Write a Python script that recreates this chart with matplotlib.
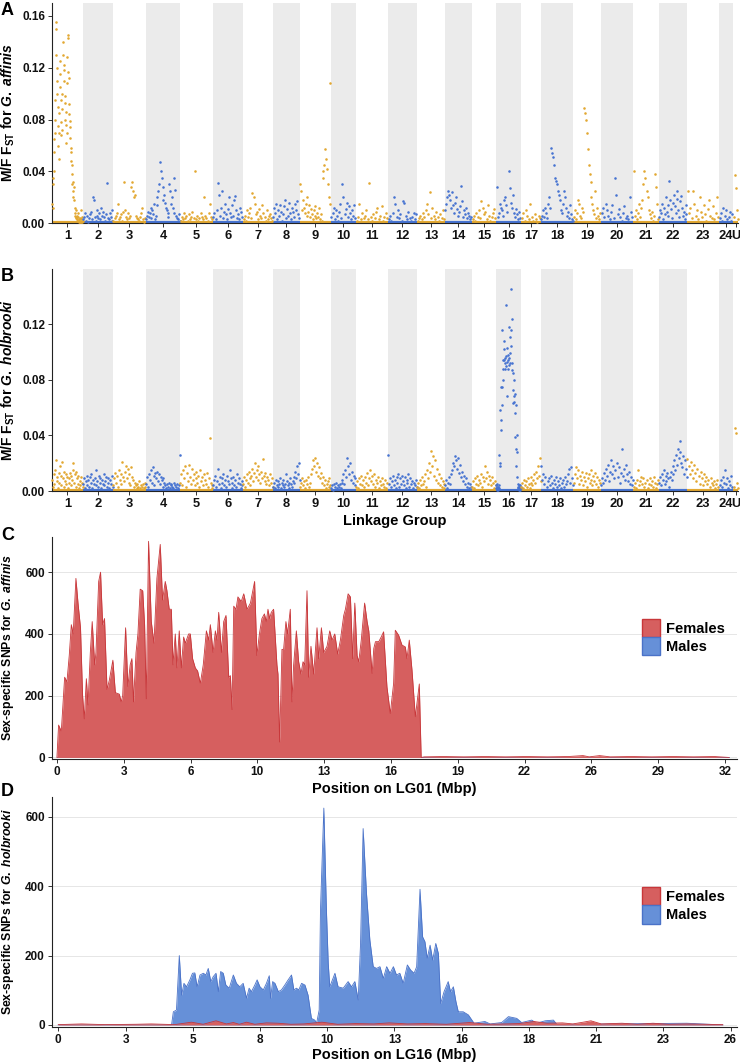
import numpy as np
import matplotlib.pyplot as plt
from matplotlib.patches import Patch

plt.rcParams['font.family'] = ['Liberation Sans', 'DejaVu Sans']
plt.rcParams['font.weight'] = 'bold'
plt.rcParams['mathtext.fontset'] = 'custom'
plt.rcParams['mathtext.rm'] = 'Liberation Sans:bold'
plt.rcParams['mathtext.it'] = 'Liberation Sans:bold:italic'
plt.rcParams['mathtext.bf'] = 'Liberation Sans:bold'

GOLD = '#E2A832'
BLUE = '#4673D1'
BAND = '#EBEBEB'
RED_FILL = '#D65F5F'
RED_EDGE = '#C8373A'
BLUE_FILL = '#6690D8'
BLUE_EDGE = '#4A72C8'

# linkage groups (approx. length in Mbp)
lg_labels = [str(i) for i in range(1, 25)] + ['U']
lg_lengths = [32.2, 31.2, 34.3, 35.4, 34.3, 31.2, 31.2, 28.1, 32.2, 26.0, 33.3, 30.2, 29.1,
              28.1, 25.0, 26.0, 20.8, 33.3, 29.1, 33.3, 27.0, 29.1, 33.3, 14.6, 5.2]

# M/F Fst x 1000, SNPs in order along each linkage group
fst_affinis = [
    [15, 30, 35, 12, 65, 55, 40, 70, 80, 95, 130, 155, 150, 120, 100, 110, 75, 90, 60, 85, 70, 50,
     105, 115, 125, 95, 78, 68, 88, 100, 72, 130, 140, 118, 122, 110, 98, 93, 80, 86, 76, 62, 70,
     108, 128, 143, 145, 117, 112, 92, 84, 79, 74, 66, 58, 48, 55, 45, 38, 30, 25, 20, 32, 28, 18,
     12, 8, 6, 5, 10, 4, 3, 2, 6, 8, 5, 2, 1, 3, 2, 4, 1, 2, 10, 3, 1, 2, 5, 1, 2],
    [3, 5, 8, 2, 6, 1, 4, 7, 9, 3, 20, 18, 5, 2, 6, 10, 4, 8, 3, 12, 6, 9, 5, 2, 7, 31, 4, 3, 8, 5, 2, 10],
    [2, 4, 6, 8, 15, 3, 5, 7, 2, 9, 32, 10, 5, 3, 8, 4, 6, 28, 32, 25, 20, 22, 6, 4, 3, 2, 5, 8, 12, 3, 1, 4],
    [3, 6, 9, 5, 8, 12, 4, 10, 7, 15, 3, 6, 20, 14, 25, 30, 47, 40, 35, 28, 18, 22, 16, 12, 10, 8, 5,
     30, 25, 15, 20, 12, 8, 35, 26, 6, 4, 3, 7, 2],
    [2, 5, 3, 8, 4, 6, 2, 7, 3, 5, 9, 4, 40, 3, 6, 2, 4, 8, 5, 3, 20, 6, 4, 2, 8, 15, 5, 3],
    [5, 8, 3, 10, 31, 22, 6, 12, 25, 4, 9, 15, 7, 3, 11, 20, 8, 5, 14, 6, 18, 21, 10, 4, 7, 3, 12, 9, 5],
    [3, 6, 2, 10, 5, 8, 12, 4, 23, 20, 15, 7, 9, 3, 11, 6, 4, 14, 8, 5, 2, 10, 3, 6, 7, 4, 2],
    [5, 12, 8, 15, 3, 10, 6, 14, 9, 2, 7, 13, 18, 4, 11, 6, 16, 8, 3, 12, 9, 5, 15, 10, 17, 7, 4],
    [30, 25, 10, 18, 12, 8, 15, 6, 20, 9, 14, 5, 11, 7, 3, 10, 13, 6, 4, 8, 5, 12, 3, 7, 2, 35, 40,
     45, 57, 50, 42, 30, 20, 15, 108],
    [5, 8, 12, 3, 10, 6, 2, 9, 15, 4, 30, 20, 7, 11, 16, 5, 13, 8, 3, 10, 6, 14, 4],
    [2, 5, 15, 3, 8, 4, 6, 10, 3, 31, 5, 2, 7, 4, 9, 12, 3, 6, 13, 2, 5, 8, 4],
    [3, 6, 2, 8, 20, 15, 5, 10, 4, 7, 2, 17, 16, 6, 3, 9, 4, 2, 5, 8, 3, 7],
    [2, 4, 6, 3, 8, 5, 10, 15, 7, 24, 4, 12, 6, 3, 9, 5, 2, 7, 4, 10, 3],
    [10, 15, 20, 25, 22, 18, 12, 24, 14, 8, 16, 20, 11, 6, 9, 13, 29, 17, 5, 10, 7, 12, 4, 8, 6, 3, 5],
    [3, 6, 2, 8, 5, 10, 4, 17, 12, 7, 9, 3, 14, 6, 2, 5, 8, 11, 4],
    [28, 5, 8, 15, 12, 10, 6, 18, 20, 14, 9, 40, 27, 16, 12, 22, 8, 5, 11, 7, 3, 9, 4],
    [4, 8, 2, 10, 6, 3, 15, 5, 2, 7, 3, 1, 6, 4],
    [3, 6, 10, 5, 12, 8, 4, 15, 20, 12, 58, 54, 51, 45, 35, 33, 30, 25, 22, 18, 10, 8, 15, 25, 20,
     12, 6, 9, 4, 14, 7, 3, 2],
    [5, 10, 3, 8, 18, 15, 6, 4, 12, 9, 89, 85, 80, 70, 57, 45, 38, 32, 20, 15, 10, 7, 25, 4, 12, 6, 3, 8],
    [8, 12, 5, 15, 10, 6, 3, 9, 14, 4, 35, 22, 7, 11, 5, 2, 8, 13, 4, 6, 3, 20, 9, 5],
    [40, 6, 10, 3, 8, 15, 5, 12, 18, 30, 40, 35, 25, 20, 10, 7, 4, 9, 2, 6, 38, 28, 15, 3],
    [5, 10, 8, 15, 3, 12, 7, 20, 9, 14, 6, 33, 18, 11, 4, 16, 22, 13, 8, 25, 19, 10, 5, 17, 21, 12,
     6, 9, 3, 14, 7],
    [25, 8, 12, 4, 25, 15, 6, 10, 3, 20, 9, 5, 14, 7, 2, 11, 18, 6, 4, 13, 3, 8, 20, 5],
    [4, 8, 2, 12, 6, 10, 3, 5, 9, 2, 7],
    [5, 37, 27, 10, 3],
]

fst_holbrooki = [
    [8, 3, 12, 5, 15, 22, 7, 10, 2, 13, 6, 18, 4, 11, 21, 9, 3, 14, 7, 12, 5, 10, 2, 9, 6, 13, 4, 11,
     8, 15, 20, 6, 12, 3, 14, 9, 5, 11, 2, 7, 4, 10, 6, 3],
    [5, 9, 2, 7, 11, 4, 8, 3, 10, 6, 12, 2, 8, 5, 9, 4, 15, 7, 3, 11, 6, 9, 2, 8, 5, 12, 4, 7, 10, 3,
     6, 9, 2, 8, 5, 11, 3],
    [4, 9, 13, 6, 11, 3, 15, 8, 12, 5, 21, 10, 7, 14, 18, 9, 16, 6, 12, 4, 17, 10, 8, 3, 6, 4, 2, 5,
     3, 7, 2, 4, 3, 5, 2, 6, 3],
    [5, 10, 3, 12, 8, 15, 6, 17, 11, 4, 13, 9, 14, 7, 12, 5, 10, 8, 3, 9, 6, 4, 2, 5, 3, 6, 2, 4, 5,
     3, 2, 6, 4, 3, 5, 2, 4, 26],
    [6, 12, 4, 15, 9, 18, 3, 13, 7, 19, 10, 5, 16, 8, 12, 4, 14, 9, 6, 11, 3, 15, 7, 10, 4, 12, 8, 5,
     13, 3, 9, 38, 6, 4, 2],
    [4, 8, 11, 3, 7, 16, 5, 10, 2, 9, 6, 12, 4, 8, 3, 11, 7, 5, 15, 9, 2, 6, 10, 4, 8, 3, 12, 6, 9, 5, 2, 7, 4],
    [5, 10, 3, 8, 12, 6, 14, 9, 4, 11, 16, 7, 13, 20, 10, 15, 8, 18, 12, 6, 14, 9, 23, 11, 7, 13, 5,
     10, 8, 4, 12, 6, 9, 3],
    [3, 6, 2, 8, 4, 7, 3, 5, 9, 2, 6, 4, 8, 3, 5, 12, 7, 4, 6, 2, 9, 5, 3, 7, 10, 6, 14, 9, 18, 12, 20, 8],
    [3, 6, 9, 4, 7, 2, 8, 5, 10, 3, 6, 12, 16, 22, 18, 24, 14, 20, 11, 17, 9, 13, 6, 10, 4, 8, 2, 5, 7, 3, 9, 4],
    [2, 4, 1, 5, 3, 6, 2, 4, 3, 5, 2, 6, 8, 12, 5, 15, 10, 24, 18, 12, 20, 8, 14, 6, 11, 4, 9],
    [3, 7, 2, 9, 5, 11, 4, 8, 3, 10, 6, 13, 4, 9, 15, 7, 11, 5, 12, 3, 8, 6, 10, 2, 7, 4, 9, 5, 3, 8, 2, 6],
    [26, 5, 9, 3, 7, 11, 4, 8, 2, 10, 6, 12, 3, 9, 5, 11, 7, 4, 10, 2, 8, 6, 12, 3, 9, 5, 7, 2, 6, 4, 8, 3],
    [3, 6, 2, 8, 4, 10, 5, 7, 12, 3, 15, 9, 20, 14, 29, 18, 25, 11, 22, 8, 16, 6, 12, 4, 9, 3, 7, 5, 2],
    [4, 8, 2, 6, 10, 5, 12, 15, 20, 18, 25, 22, 16, 24, 13, 19, 10, 14, 7, 11, 5, 9, 3, 6, 2, 5, 3],
    [3, 7, 2, 9, 5, 11, 4, 8, 6, 12, 3, 10, 7, 18, 9, 14, 5, 11, 8, 4, 10, 6, 2, 7, 4],
    [2, 4, 1, 3, 5, 2, 3, 1, 4, 2, 26, 18, 58, 20, 51, 44, 75, 62, 75, 116, 94, 88, 80, 94, 102, 108,
     88, 96, 92, 134, 97, 90, 68, 93, 103, 98, 94, 88, 91, 118, 96, 92, 99, 111, 145, 104, 116, 87,
     124, 92, 73, 85, 63, 80, 68, 64, 56, 70, 39, 62, 30, 18, 40, 10, 28, 3, 5, 2, 4, 1, 3, 2, 4, 1, 3, 2],
    [3, 6, 2, 8, 4, 7, 3, 9, 5, 2, 6, 10, 4, 8, 12, 6, 14, 9, 18, 11, 24, 7],
    [18, 8, 12, 5, 10, 3, 7, 9, 4, 11, 6, 2, 8, 5, 10, 3, 7, 4, 9, 2, 6, 8, 3, 10, 5, 7, 12, 16, 6, 17, 9, 4],
    [6, 12, 17, 9, 15, 5, 11, 8, 14, 4, 10, 7, 13, 3, 9, 12, 6, 15, 8, 4, 11, 7, 13, 5, 10, 3, 8, 6],
    [4, 9, 6, 13, 8, 16, 11, 19, 7, 14, 22, 12, 18, 9, 15, 20, 10, 17, 6, 13, 30, 11, 16, 8, 19, 12,
     7, 14, 5, 10, 4, 8],
    [3, 6, 2, 8, 15, 4, 7, 10, 5, 9, 3, 6, 8, 2, 5, 9, 4, 7, 3, 10, 6, 2, 5, 8],
    [6, 10, 4, 12, 8, 15, 5, 11, 7, 13, 9, 3, 10, 14, 8, 12, 18, 22, 15, 26, 19, 30, 24, 36, 28, 20,
     17, 25, 12, 22, 16, 10],
    [23, 18, 12, 21, 15, 9, 19, 13, 7, 16, 11, 5, 14, 9, 4, 12, 7, 10, 5, 8, 3, 9, 6, 4, 7, 2, 5, 8, 3],
    [4, 8, 3, 10, 6, 15, 5, 9, 2, 7, 4, 11, 3],
    [3, 45, 42, 6, 2],
]

# sex-specific SNPs along LG01 in G. affinis
c_pos = [0.00, 0.08, 0.21, 0.37, 0.48, 0.59, 0.69, 0.78, 0.91, 1.01, 1.13, 1.23, 1.31, 1.41, 1.49,
         1.60, 1.69, 1.81, 1.87, 2.00, 2.09, 2.19, 2.28, 2.40, 2.51, 2.68, 2.80, 2.99, 3.08, 3.15,
         3.29, 3.40, 3.51, 3.59, 3.67, 3.79, 3.88, 3.99, 4.11, 4.20, 4.28, 4.39, 4.52, 4.65, 4.79,
         4.95, 5.06, 5.19, 5.27, 5.38, 5.48, 5.56, 5.67, 5.75, 5.86, 5.96, 6.07, 6.15, 6.31, 6.39,
         6.50, 6.63, 6.74, 6.87, 7.01, 7.16, 7.27, 7.35, 7.48, 7.59, 7.67, 7.75, 7.88, 7.99, 8.10,
         8.23, 8.31, 8.39, 8.47, 8.58, 8.67, 8.83, 8.95, 9.11, 9.27, 9.47, 9.58, 9.70, 9.82, 9.94,
         10.03, 10.11, 10.19, 10.27, 10.38, 10.54, 10.59, 10.67, 10.78, 10.86, 10.97, 11.05, 11.18,
         11.26, 11.34, 11.47, 11.58, 11.69, 11.79, 11.87, 11.98, 12.06, 12.17, 12.30, 12.46, 12.54,
         12.67, 12.78, 12.94, 13.07, 13.18, 13.31, 13.45, 13.58, 13.74, 13.82, 13.95, 14.06, 14.17,
         14.27, 14.38, 14.46, 14.58, 14.74, 14.86, 14.94, 15.10, 15.18, 15.26, 15.42, 15.54, 15.65,
         15.81, 15.97, 16.13, 16.21, 16.37, 16.53, 16.69, 16.77, 16.88, 17.01, 17.17, 17.36, 17.45,
         17.6, 18.5, 19.5, 20.5, 21.5, 22.5, 23.5, 24.5, 25.2, 25.5, 26.0, 26.5, 27.5, 28.5, 29.5,
         30.5, 31.5, 32.2]
c_females = [0, 105, 85, 260, 245, 330, 430, 400, 580, 500, 420, 200, 125, 255, 170,
             340, 440, 300, 340, 570, 600, 430, 450, 220, 250, 315, 210, 205, 180, 200,
             420, 230, 300, 320, 180, 340, 400, 545, 540, 430, 190, 700, 440, 370, 580,
             690, 510, 570, 540, 480, 480, 300, 400, 290, 410, 290, 390, 370, 400, 400,
             320, 290, 280, 240, 300, 410, 380, 430, 340, 410, 380, 470, 340, 440, 460,
             260, 265, 155, 490, 480, 520, 505, 530, 480, 500, 570, 330, 400, 450, 465,
             440, 480, 450, 470, 480, 300, 270, 50, 350, 350, 440, 400, 480,
             180, 300, 410, 310, 270, 310, 300, 540, 260, 360, 270, 420, 320,
             420, 340, 360, 410, 380, 400, 335, 380, 460, 480, 530, 520, 320,
             500, 330, 310, 380, 500, 440, 410, 272, 353, 375, 375, 391, 407,
             229, 142, 240, 412, 396, 364, 358, 320, 380, 283, 132, 238, 0,
             2, 3, 2, 3, 2, 3, 2, 3, 6, 2, 6, 2, 3, 2, 3,
             2, 3, 0]
c_males_pos = [0.0, 8.0, 16.0, 24.0, 32.2]
c_males = [0, 0, 0, 0, 0]
c_ticks = [0, 3.2, 6.4, 9.6, 12.8, 16.0, 19.2, 22.4, 25.6, 28.8, 32.0]
c_ticklabels = ['0', '3', '6', '10', '13', '16', '19', '22', '26', '29', '32']

# sex-specific SNPs along LG16 in G. holbrooki
d_males_pos = [0.0, 4.38, 4.45, 4.57, 4.68, 4.77, 4.86, 4.96, 5.09, 5.19, 5.28, 5.37, 5.48, 5.61,
               5.71, 5.80, 5.90, 5.99, 6.10, 6.19, 6.28, 6.38, 6.48, 6.61, 6.77, 6.89, 7.02, 7.15,
               7.28, 7.38, 7.47, 7.60, 7.69, 7.80, 7.93, 8.05, 8.16, 8.21, 8.29, 8.38, 8.51, 8.63,
               8.76, 8.89, 9.02, 9.11, 9.21, 9.30, 9.41, 9.54, 9.66, 9.79, 9.92, 9.99, 10.09, 10.14,
               10.27, 10.37, 10.44, 10.50, 10.70, 10.82, 11.02, 11.21, 11.34, 11.47, 11.60, 11.69,
               11.79, 11.92, 12.05, 12.18, 12.31, 12.44, 12.57, 12.70, 12.83, 12.96, 13.08, 13.21,
               13.34, 13.50, 13.63, 13.76, 13.86, 13.99, 14.09, 14.18, 14.27, 14.38, 14.48, 14.60,
               14.70, 14.79, 14.92, 15.08, 15.17, 15.28, 15.38, 15.47, 15.66, 15.86, 16.08, 16.50,
               16.70, 17.15, 17.41, 17.73, 17.92, 18.31, 18.50, 18.83, 19.15, 19.28, 19.80, 24.31, 25.70]
d_males = [0, 0, 38, 43, 200, 86, 120, 110, 130, 149, 150, 110, 144, 149,
           144, 163, 125, 139, 149, 96, 154, 149, 115, 106, 144, 120, 110, 120,
           77, 106, 96, 115, 130, 110, 101, 120, 142, 77, 125, 120, 96, 101,
           115, 130, 144, 101, 106, 101, 120, 115, 86, 19, 14, 5, 43, 331,
           625, 331, 178, 110, 149, 110, 106, 125, 110, 125, 72, 235,
           566, 379, 245, 168, 163, 168, 134, 168, 149, 168, 144, 149,
           120, 173, 158, 149, 168, 391, 254, 240, 192, 230, 187, 235,
           206, 62, 96, 125, 96, 110, 67, 38, 38, 29, 5, 10,
           3, 7, 24, 19, 7, 14, 5, 12, 14, 2, 2, 5, 0]
d_females_pos = [0.0, 0.9, 1.8, 3.0, 3.6, 4.5, 5.15, 5.6, 6.1, 6.5, 6.77, 7.0, 7.28, 7.6, 8.05,
                 8.5, 9.0, 9.5, 10.2, 10.8, 11.5, 12.2, 12.8, 13.5, 14.2, 15.0, 15.9, 16.6, 17.3,
                 17.8, 18.4, 18.9, 19.5, 19.9, 20.3, 20.6, 21.0, 21.4, 21.8, 22.4, 23.0, 23.6,
                 24.3, 25.0, 25.7]
d_females = [1, 3, 1, 2, 3, 1, 8, 2, 12, 3, 7, 2, 8, 2, 6,
             5, 2, 3, 8, 2, 4, 3, 6, 3, 4, 2, 7, 2, 3,
             4, 10, 5, 6, 3, 8, 12, 3, 4, 5, 2, 5, 2,
             3, 2, 1]
d_ticks = [0, 2.6, 5.2, 7.8, 10.4, 13.0, 15.6, 18.2, 20.8, 23.4, 26.0]
d_ticklabels = ['0', '3', '5', '8', '10', '13', '16', '18', '21', '23', '26']

W, H = 740, 1062
fig = plt.figure(figsize=(W / 100, H / 100), dpi=100)


def px_axes(left, top, right, bottom):
    return fig.add_axes([left / W, 1 - bottom / H, (right - left) / W, (bottom - top) / H])


def side_label(text, top, bottom, size):
    fig.text(8 / W, 1 - (top + bottom) / 2 / H, text, rotation=90, ha='center', va='center',
             fontsize=size, fontweight='bold')


def style(ax):
    for side in ('top', 'right'):
        ax.spines[side].set_visible(False)
    for side in ('left', 'bottom'):
        ax.spines[side].set_color('#222222')
        ax.spines[side].set_linewidth(0.8)
    ax.tick_params(axis='both', labelsize=8.5, length=3, width=0.7, color='#333333',
                   labelcolor='#111111', pad=2)
    for lab in ax.get_xticklabels() + ax.get_yticklabels():
        lab.set_fontweight('bold')


def manhattan(ax, fst, ymax, yticks):
    starts = np.concatenate([[0], np.cumsum(lg_lengths)[:-1]])
    for k, (s, ln, vals) in enumerate(zip(starts, lg_lengths, fst)):
        col = GOLD if k % 2 == 0 else BLUE
        if k % 2 == 1:
            ax.axvspan(s, s + ln, color=BAND, lw=0, zorder=0)
        n = len(vals)
        x = s + (np.arange(n) + 0.5) * ln / n
        ax.scatter(x, np.array(vals) / 1000, s=3.4, color=col, lw=0, zorder=3, clip_on=False)
        ax.plot([s, s + ln], [0, 0], color=col, lw=3, zorder=2, solid_capstyle='butt')
    ax.set_xlim(0, sum(lg_lengths))
    ax.set_ylim(0, ymax)
    ax.set_yticks(yticks)
    ax.set_yticklabels(['%.2f' % v for v in yticks])
    ax.set_xticks(starts + np.array(lg_lengths) / 2)
    ax.set_xticklabels(lg_labels)
    style(ax)
    ax.tick_params(axis='x', labelsize=9.3)


def snp_area(ax, fem_pos, fem, male_pos, male, ticks, ticklabels, xlim, ymin, ymax):
    ax.fill_between(male_pos, male, color=BLUE_FILL, lw=0, zorder=2)
    ax.plot(male_pos, male, color=BLUE_EDGE, lw=0.6, zorder=2)
    ax.fill_between(fem_pos, fem, color=RED_FILL, lw=0, zorder=3)
    ax.plot(fem_pos, fem, color=RED_EDGE, lw=0.6, zorder=3)
    ax.set_xlim(*xlim)
    ax.set_ylim(ymin, ymax)
    ax.set_yticks([0, 200, 400, 600])
    ax.set_xticks(ticks)
    ax.set_xticklabels(ticklabels)
    ax.yaxis.grid(True, color='#E6E6E6', lw=0.7)
    ax.set_axisbelow(True)
    style(ax)


legend_handles = [Patch(facecolor=RED_FILL, edgecolor=RED_EDGE, label='Females'),
                  Patch(facecolor=BLUE_FILL, edgecolor=BLUE_EDGE, label='Males')]


def add_legend(ax, y):
    ax.legend(handles=legend_handles, loc='upper left', bbox_to_anchor=(0.861, y), frameon=False,
              prop={'size': 10.5, 'weight': 'bold'}, handlelength=1.25, handleheight=1.55,
              handletextpad=0.4, labelspacing=0.0, borderpad=0, borderaxespad=0)


# A
axA = px_axes(52, 3, 738, 223.3)
manhattan(axA, fst_affinis, 0.170, [0.00, 0.04, 0.08, 0.12, 0.16])
side_label(r'M/F F$_{\rm ST}$ for $\it{G.\ affinis}$', 3, 223, 10)

# B
axB = px_axes(52, 269, 738, 491)
manhattan(axB, fst_holbrooki, 0.1597, [0.00, 0.04, 0.08, 0.12])
side_label(r'M/F F$_{\rm ST}$ for $\it{G.\ holbrooki}$', 269, 491, 10)
axB.set_xlabel('Linkage Group', fontsize=10.5, fontweight='bold', labelpad=3)

# C
axC = px_axes(51.7, 537, 737, 759)
snp_area(axC, c_pos, c_females, c_males_pos, c_males, c_ticks, c_ticklabels, (-0.25, 32.58), -5, 714)
side_label(r'Sex-specific SNPs for $\it{G.\ affinis}$', 537, 759, 8.8)
axC.set_xlabel('Position on LG01 (Mbp)', fontsize=10.5, fontweight='bold', labelpad=3)
add_legend(axC, 0.631)

# D
axD = px_axes(51.7, 797, 737, 1026.7)
snp_area(axD, d_females_pos, d_females, d_males_pos, d_males, d_ticks, d_ticklabels, (-0.255, 26.25), -5, 657)
side_label(r'Sex-specific SNPs for $\it{G.\ holbrooki}$', 797, 1026.7, 8.8)
axD.set_xlabel('Position on LG16 (Mbp)', fontsize=10.5, fontweight='bold', labelpad=1.5)
add_legend(axD, 0.608)

for letter, top in (('A', 2), ('B', 268), ('C', 527), ('D', 783)):
    fig.text(1 / W, 1 - top / H, letter, fontsize=13, fontweight='bold', va='top', ha='left')

fig.savefig('out.png', dpi=100)
